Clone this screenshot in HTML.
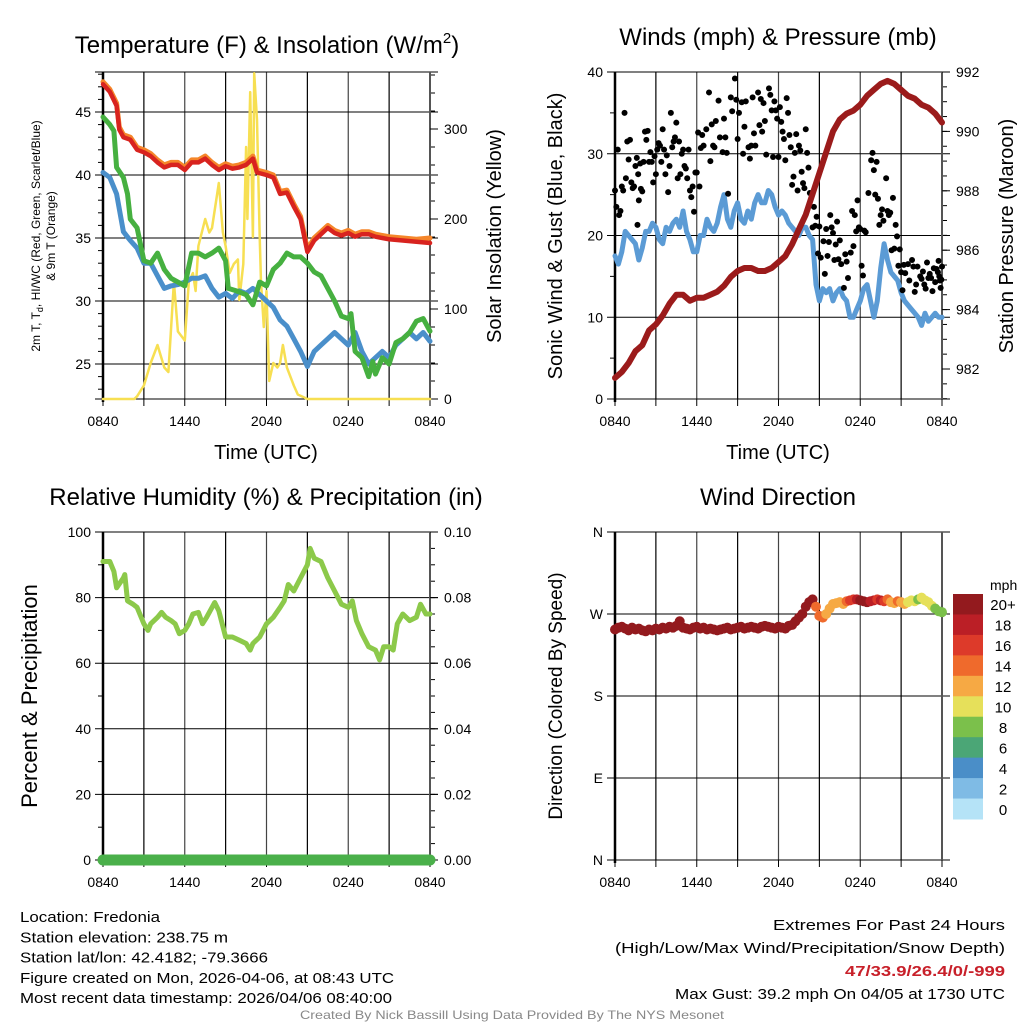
<!DOCTYPE html>
<html><head><meta charset="utf-8"><style>
body{margin:0;background:#fff}
svg{display:block;font-family:"Liberation Sans",sans-serif}
</style></head><body>
<svg id="fig" width="1024" height="1024" viewBox="0 0 1024 1024"></svg>
<script>
// ---------- DATA ----------
const hourTicks=[0,3,6,9,12,15,18,21,24];
const hourTickLabels=["0840","","1440","","2040","","0240","","0840"];
const tempTicks=[25,30,35,40,45];
const solarTicks=[0,100,200,300];
const windTicks=[0,10,20,30,40];
const presTicks=[982,984,986,988,990,992];
const rhTicks=[0,20,40,60,80,100];
const precipTickLabels=["0.00","0.02","0.04","0.06","0.08","0.10"];
const dirTicks=[0,90,180,270,360];
const dirTickLabels=["N","E","S","W","N"];
const speedBins=["0","2","4","6","8","10","12","14","16","18","20+"];
const speedColors=["#b5e3f7","#7fbbe5","#4a8ec8","#4ba676","#7bc04b","#e6e05a","#f6a944","#ef6a2c","#dd3a2a","#bb1f26","#931a1e"];

const tHours=[0,0.5,1,1.2,1.5,2,2.5,3,3.5,4,4.5,5,5.5,6,6.5,7,7.5,8,8.5,9,9.5,10,10.5,11,11.3,12,12.5,13,13.5,14,14.5,15,15.5,16,16.5,17,17.5,18,18.5,19,19.5,20,20.5,21,22,23,24];
const tempRed=[47.2,46.6,45.5,43.6,43,42.8,42,41.8,41.5,41.0,40.6,40.8,40.8,40.4,41.0,41.0,41.3,40.8,40.4,40.7,40.5,40.6,40.8,41.3,40.2,40.0,39.8,38.5,38.6,37.5,36.5,33.9,34.8,35.3,35.8,35.4,35.2,35.4,35.1,35.3,35.3,35.1,35.0,34.9,34.8,34.7,34.6];
const tempOrange=[47.4,46.8,45.7,43.8,43.2,43.0,42.2,42.0,41.7,41.2,40.8,41.0,41.0,40.6,41.2,41.2,41.5,41.0,40.6,40.9,40.7,40.8,41.0,41.5,40.4,40.2,40.0,38.7,38.8,37.7,36.7,34.1,35.0,35.5,36.0,35.6,35.4,35.6,35.3,35.5,35.5,35.3,35.2,35.1,35.0,34.9,35.0];
const dHours=[0,0.5,0.8,1,1.5,1.8,2,2.5,3,3.5,4,4.5,5,5.5,6,6.5,7,7.5,8,8.5,9,9.2,9.8,10.5,11,11.5,12,12.5,13,13.5,14,14.5,15,15.5,16,17,17.5,18,18.2,18.5,19,19.5,19.8,20,20.5,21,21.5,22,22.5,23,23.5,24];
const dewGreen=[44.6,44,43.5,40.6,39.8,38.5,36.5,35.8,33.2,33.0,33.8,32.5,31.8,31.5,31.2,33.8,33.8,33.5,33.8,34.2,33.2,31.0,30.8,30.5,29.7,31.5,31.2,32.5,33.0,33.8,33.5,33.5,33.0,32.3,32.0,30.0,28.8,28.6,29.0,26.0,25.5,24.0,25.2,24.2,25.5,25.0,26.7,27.0,27.5,28.4,28.6,27.6];
const bHours=[0,0.5,1,1.5,2,2.5,3,3.5,4,4.5,5,5.5,6,6.5,7,7.5,8,8.5,9,9.5,10,10.5,11,11.5,12,12.5,13,13.5,14,14.5,15,15.5,16,16.5,17,17.5,18,18.5,19,19.5,20,20.5,21,21.5,22,22.5,23,23.5,24];
const wcBlue=[40.2,39.8,38.5,35.5,34.8,34.2,33.0,33.0,32.0,31.0,31.2,31.3,31.5,31.8,31.8,32.0,31.0,30.3,30.6,30.2,30.8,30.6,31.0,30.5,30.0,29.5,28.5,28.0,27.0,26.0,24.8,26.0,26.5,27.0,27.5,27.0,26.5,27.5,26.0,25.0,25.5,26.0,25.5,26.5,27.0,27.5,27.0,27.5,26.8];
const sHours=[0,2.3,2.5,3,3.5,4,4.5,4.8,5.2,5.5,6,6.3,6.6,6.8,7,7.5,7.8,8,8.3,8.5,8.8,9,9.3,9.6,9.9,10,10.3,10.5,10.6,10.8,11,11.1,11.3,11.5,11.6,11.8,12,12.2,12.5,12.8,13,13.2,13.5,14,14.3,15,24];
const solar=[0,0,3,15,40,60,35,30,130,75,65,130,140,120,170,200,185,190,220,240,185,170,140,150,155,110,150,280,200,341,180,362,310,180,130,80,120,20,40,35,40,60,35,15,5,0,0];

const pHours=[0,0.5,1,1.5,2,2.5,3,3.5,4,4.5,5,5.5,6,6.5,7,7.5,8,8.5,9,9.5,10,10.5,11,11.5,12,12.5,13,13.5,14,14.5,15,15.5,16,16.5,17,17.5,18,18.5,19,19.5,20,20.5,21,21.5,22,22.5,23,23.5,24];
const pressure=[981.7,981.9,982.2,982.6,982.8,983.3,983.5,983.8,984.2,984.5,984.5,984.3,984.4,984.4,984.5,984.6,984.8,985.1,985.3,985.4,985.4,985.3,985.3,985.4,985.6,985.8,986.2,986.7,987.2,987.9,988.6,989.3,990.0,990.4,990.6,990.7,990.9,991.2,991.4,991.6,991.7,991.6,991.4,991.2,991.1,990.9,990.8,990.6,990.3];
const wHours=[0,0.25,0.5,0.75,1,1.25,1.5,1.75,2,2.25,2.5,2.75,3,3.25,3.5,3.75,4,4.25,4.5,4.75,5,5.25,5.5,5.75,6,6.25,6.5,6.75,7,7.25,7.5,7.75,8,8.25,8.5,8.75,9,9.25,9.5,9.75,10,10.25,10.5,10.75,11,11.25,11.5,11.75,12,12.25,12.5,12.75,13,13.25,13.5,13.75,14,14.25,14.5,14.75,15,15.25,15.5,15.75,16,16.25,16.5,16.75,17,17.25,17.5,17.75,18,18.25,18.5,18.75,19,19.25,19.5,19.75,20,20.25,20.5,20.75,21,21.25,21.5,21.75,22,22.25,22.5,22.75,23,23.25,23.5,23.75,24];
const windSpeed=[17.5,16.5,18,20.5,20,19.5,19,17,18.5,20.5,20.5,21.5,21,19.5,19,21,20.5,21.5,22,21,23,20.5,19.5,18,18,20,20,22,21,20.5,21.5,23.5,25,22,21,23,24,22,21.5,23,22,24,25,24,24,25.5,25,23.5,22.5,23,22.5,21.5,21,20.5,20,21,21,20,19.5,14,12,13.5,13,13.5,12,13,13.5,12.5,12,10,10,11,12,13.5,14,12,10,12,16,19,17,15.5,15,14.5,13,12,11.5,11,10.5,10,9,10.5,9.5,10,10.5,10,10];
const gustPts=[[0,25.5],[0.1,23.5],[0.2,30.5],[0.3,22.5],[0.4,23],[0.5,26],[0.6,25.5],[0.7,35],[0.8,27],[0.9,31.5],[1,29.3],[1.1,31.7],[1.2,26.5],[1.3,25.8],[1.4,26],[1.5,28.5],[1.6,29.5],[1.65,21.3],[1.7,27.5],[1.75,24.3],[1.85,28.8],[1.9,25.7],[2,25.4],[2.1,29],[2.2,32.7],[2.3,31.7],[2.4,32.8],[2.5,29],[2.6,30.2],[2.7,29],[2.8,26.5],[2.9,29.7],[3.0,27.5],[3.1,30.5],[3.2,31.3],[3.3,31],[3.4,29],[3.5,33],[3.6,30.5],[3.7,27.5],[3.8,29.8],[3.9,25.3],[4.0,28.5],[4.1,35],[4.2,30.8],[4.3,31.5],[4.4,32],[4.5,33.8],[4.6,27],[4.7,31.5],[4.8,27.5],[4.9,30],[5.0,30.5],[5.1,28.5],[5.2,28.2],[5.3,27],[5.4,30.5],[5.5,25.5],[5.6,24.7],[5.7,26],[5.8,22.9],[5.9,27.7],[6.0,27.7],[6.1,32.6],[6.2,26],[6.3,30.7],[6.4,32.3],[6.5,31],[6.7,33],[6.9,37.5],[7.0,29.1],[7.1,33.6],[7.2,31],[7.3,30.8],[7.4,34],[7.6,36.5],[7.7,32],[7.9,30.2],[8.0,34.3],[8.1,32],[8.2,30.1],[8.3,25.1],[8.5,36.9],[8.6,35.2],[8.8,39.2],[8.9,36.6],[9.0,31.8],[9.1,35],[9.3,36.3],[9.4,30],[9.5,33.3],[9.6,36.4],[9.8,30.8],[9.9,29.4],[10.0,31],[10.1,36.9],[10.2,32.5],[10.3,31],[10.5,37.5],[10.6,33.5],[10.7,36.7],[10.8,32.7],[10.9,36.2],[11.0,34],[11.1,29.9],[11.3,38],[11.4,37.2],[11.5,35.3],[11.6,29.6],[11.7,36.4],[11.8,35.3],[11.9,34.3],[12.0,29.6],[12.1,35.7],[12.2,33.9],[12.3,32.7],[12.4,31.8],[12.5,29.2],[12.6,36.8],[12.7,35],[12.8,32.3],[12.9,30.8],[13.0,26.2],[13.1,27.2],[13.2,30.1],[13.3,32.4],[13.4,25.5],[13.5,31],[13.6,30.4],[13.7,27.8],[13.8,26.4],[13.9,25.8],[14.0,33],[14.1,30.1],[14.2,28.3],[14.3,25.2],[14.5,21],[14.6,23.5],[14.7,21.2],[14.8,22.3],[14.9,17.8],[15.0,21.1],[15.1,17.3],[15.3,19.3],[15.4,15.3],[15.5,20.8],[15.6,17.5],[15.7,19.2],[15.8,22.5],[15.9,21],[16.0,20.3],[16.1,17],[16.2,18.9],[16.3,21.7],[16.4,17.1],[16.5,19.4],[16.6,16.5],[16.8,13.6],[16.9,17.7],[17.0,16.8],[17.1,14.8],[17.3,17.9],[17.4,23],[17.5,18.7],[17.6,22.5],[17.7,20.5],[17.8,24.3],[17.9,21],[18.0,20.8],[18.1,16.3],[18.2,15.1],[18.3,20.6],[18.4,20.4],[18.6,25.2],[18.8,29.2],[18.9,30.1],[19.0,28],[19.1,25],[19.2,29],[19.3,24.5],[19.4,21.3],[19.5,22.5],[19.6,23.2],[19.7,21.8],[19.9,27],[20.0,23],[20.1,22.5],[20.2,22.8],[20.3,18.2],[20.4,24.6],[20.5,18.4],[20.6,21.3],[20.7,19.9],[20.8,16.3],[20.9,18.3],[21.0,15.5],[21.1,13.3],[21.2,16.4],[21.3,15.4],[21.5,16.5],[21.6,14.5],[21.8,17],[21.9,16.2],[22.0,13.1],[22.1,14],[22.2,16.2],[22.4,15],[22.5,14.7],[22.6,15.6],[22.7,14],[22.8,13.5],[22.9,16.7],[23.0,14.8],[23.1,15.3],[23.2,14.8],[23.3,13.2],[23.4,16],[23.5,14.3],[23.6,15.9],[23.7,15.5],[23.75,16.9],[23.8,15],[23.85,14.5],[23.9,13.6],[23.95,14.6],[24,16.2]];

const rhHours=[0,0.5,0.8,1,1.5,1.6,1.8,2.2,2.5,3,3.3,3.5,4,4.3,4.6,5,5.3,5.6,6,6.3,6.6,7,7.3,7.6,8,8.2,8.5,9,9.5,10,10.5,10.8,11,11.5,12,12.5,13,13.3,13.6,14,14.5,15,15.2,15.5,16,16.5,17,17.5,18,18.3,18.6,19,19.5,20,20.3,20.6,21,21.3,21.6,22,22.5,23,23.3,23.7,24];
const rh=[91,91,88,83,86,87,79,78,77,72,70,72,74,75.5,74,73,72,69,70,72,75,75.5,72,74,77,78.5,76,68,68,67,66,64,66,68,72,74,77,79,84,82,86,90,95,92,91,86,82,78,77,79,73,69,65,64,61,65,65,64,72,75,73,74,78,75,75];
const precipHours=[0,24];
const precip=[0,0];

const wdDir=[253,255,256,254,252,255,253,254,252,251,253,252,254,253,255,254,256,255,257,262,255,254,253,255,256,254,255,253,254,253,252,253,254,255,253,254,255,256,254,255,256,255,254,256,257,256,255,254,256,255,254,257,258,262,266,270,278,283,286,278,268,266,270,276,281,282,283,281,284,285,286,286,285,284,283,284,285,286,285,284,286,283,282,284,283,281,283,285,284,286,288,285,283,279,276,273,272];
const wdSpeed=[21,21,21,21,21,21,21,21,21,21,21,21,21,21,21,21,21,21,21,21,21,21,21,21,21,21,21,21,21,21,21,21,21,21,21,21,21,21,21,21,21,21,21,21,21,21,21,21,21,21,21,21,20,20,21,21,22,22,21,15,14,14,13,12,12,12,13,13,15,17,16,19,20,21,20,19,18,17,18,16,14,13,12,14,12,12,11,10,10,9,10,11,10,10,9,9,8];

// ---------- DRAW ----------
const NS="http://www.w3.org/2000/svg";
const svg=document.getElementById('fig');
function el(tag,attrs,parent){const e=document.createElementNS(NS,tag);for(const k in attrs)e.setAttribute(k,attrs[k]);(parent||svg).appendChild(e);return e;}
function txt(s,x,y,attrs,parent){const t=el('text',Object.assign({x:x,y:y},attrs),parent);t.textContent=s;return t;}
function lin(d0,d1,r0,r1){return v=>r0+(v-d0)*(r1-r0)/(d1-d0);}

const X0L=103,X1L=430,X0R=615,X1R=942;
const xL=lin(0,24,X0L,X1L), xR=lin(0,24,X0R,X1R);

function frame(g,x,x0,x1,y0,y1,yGridPix,leftTicks,rightTicks,leftMinor,rightMinor){
  hourTicks.forEach((h,i)=>{
    const l=el('line',{x1:x(h),x2:x(h),y1:y0,y2:y1,stroke:(i%2?'#000':'#444'),'stroke-width':1.2},g);
    
    el('line',{x1:x(h),x2:x(h),y1:y1,y2:y1+7,stroke:'#000','stroke-width':1},g);
    if(hourTickLabels[i]){const t=txt(hourTickLabels[i],x(h),y1+27,{'font-size':14,'text-anchor':'middle'},g);}
  });
  yGridPix.forEach(py=>{const l=el('line',{x1:x0-8,x2:x1+8,y1:py,y2:py,stroke:'#000','stroke-width':1},g);});
  leftMinor.forEach(py=>el('line',{x1:x0-5,x2:x0,y1:py,y2:py,stroke:'#000','stroke-width':1},g));
  rightMinor.forEach(py=>el('line',{x1:x1,x2:x1+5,y1:py,y2:py,stroke:'#000','stroke-width':1},g));
  el('line',{x1:x0,x2:x0,y1:y0,y2:y1+3,stroke:'#000','stroke-width':2.5},g);
  el('line',{x1:x1,x2:x1,y1:y0,y2:y1,stroke:'#555','stroke-width':2},g);
  leftTicks.forEach(([py,s])=>{const t=txt(s,x0-12,py+5,{'font-size':14,'text-anchor':'end'},g);});
  rightTicks.forEach(([py,s])=>{el('line',{x1:x1,x2:x1+8,y1:py,y2:py,stroke:'#000'},g);const t=txt(s,x1+14,py+5,{'font-size':14},g);});
}
function path(xs,ys,xf,yf,attrs,g){let d='';xs.forEach((h,i)=>{d+=(i?'L':'M')+xf(h).toFixed(1)+','+yf(ys[i]).toFixed(1);});return el('path',Object.assign({d:d,fill:'none','stroke-linejoin':'round','stroke-linecap':'round'},attrs),g);}
function title(s,x,y,name,fs){const t=txt(s,x,y,{'font-size':fs||24,'text-anchor':'middle'});return t;}
function vtitle(s,x,y,fs,name){const t=txt(s,0,0,{'font-size':fs,'text-anchor':'middle',transform:`translate(${x},${y}) rotate(-90)`});return t;}
function range(a,b,s){const r=[];for(let v=a;v<=b+1e-9;v+=s)r.push(v);return r;}

// ---- Panel 1: temperature ----
{
 const g=el('g',{});
 const yT=lin(25,45,364,112), yS=lin(0,300,399,129);
 frame(g,xL,X0L,X1L,72,399,tempTicks.map(yT).concat([399,72]),tempTicks.map(v=>[yT(v),String(v)]),solarTicks.map(v=>[yS(v),String(v)]),range(23,48,1).map(yT).filter(p=>p>=72&&p<=399),range(20,360,20).map(yS).filter(p=>p>=72));
 const s1=path(sHours,solar,xL,yS,{stroke:'#f7df52','stroke-width':2.5},g);
 const s2=path(bHours,wcBlue,xL,yT,{stroke:'#4a8fca','stroke-width':5},g);
 const s3=path(dHours,dewGreen,xL,yT,{stroke:'#46b040','stroke-width':5},g);
 const s4=path(tHours,tempOrange,xL,yT,{stroke:'#f5862a','stroke-width':5},g);
 const s5=path(tHours,tempRed,xL,yT,{stroke:'#d8231f','stroke-width':4.5},g);
 const tt=title('Temperature (F) & Insolation (W/m',267,53,'temperature-title');
 const sp=el('tspan',{'font-size':15,dy:-10},tt);sp.textContent='2';
 const cp=el('tspan',{dy:10},tt);cp.textContent=')';
 const t1=txt('2m T, T',0,0,{'font-size':12,'text-anchor':'middle',transform:'translate(40,236) rotate(-90)'});
 
 const sub=el('tspan',{'font-size':9,dy:3},t1);sub.textContent='d';
 const rest=el('tspan',{dy:-3},t1);rest.textContent=', HI/WC (Red, Green, Scarlet/Blue)';
 vtitle('& 9m T (Orange)',55,236,12,'temp-y-axis-title-line2');
 vtitle('Solar Insolation (Yellow)',501,236,20,'solar-y-axis-title');
 title('Time (UTC)',266,459,'x-axis-title',20);
}
// ---- Panel 2: winds ----
{
 const g=el('g',{});
 const yW=lin(0,40,399,72), yP=lin(982,992,369,72);
 frame(g,xR,X0R,X1R,72,399,windTicks.map(yW),windTicks.map(v=>[yW(v),String(v)]),presTicks.map(v=>[yP(v),String(v)]),range(5,35,10).map(yW),range(981,992,0.5).map(yP).filter(p=>p>=72&&p<=399));
 const s1=path(wHours,windSpeed,xR,yW,{stroke:'#5b9bd5','stroke-width':5},g);
 gustPts.forEach(([h,v])=>{const c=el('circle',{cx:xR(h),cy:yW(v),r:3,fill:'#000'},g);});
 const s2=path(pHours,pressure,xR,yP,{stroke:'#9b1b1b','stroke-width':6},g);
 title('Winds (mph) & Pressure (mb)',778,45,'winds-title');
 vtitle('Sonic Wind & Gust (Blue, Black)',562,236,20,'wind-y-axis-title');
 vtitle('Station Pressure (Maroon)',1013,236,20,'pressure-y-axis-title');
 title('Time (UTC)',778,459,'x-axis-title-2',20);
}
// ---- Panel 3: RH ----
{
 const g=el('g',{});
 const yR=lin(0,100,860,532);
 frame(g,xL,X0L,X1L,532,860,rhTicks.map(yR),rhTicks.map(v=>[yR(v),String(v)]),rhTicks.map((v,i)=>[yR(v),precipTickLabels[i]]),range(10,90,20).map(yR),range(5,95,5).map(yR));
 const s1=path(rhHours,rh,xL,yR,{stroke:'#8cc94a','stroke-width':5},g);
 const s2=path(precipHours,precip,xL,v=>yR(v*1000),{stroke:'#4ab04a','stroke-width':11},g);
 title('Relative Humidity (%) & Precipitation (in)',266,505,'humidity-title');
 vtitle('Percent & Precipitation',37,696,22,'rh-y-axis-title');
}
// ---- Panel 4: wind direction ----
{
 const g=el('g',{});
 const yD=lin(0,360,860,532);
 frame(g,xR,X0R,X1R,532,860,dirTicks.map(yD),dirTicks.map((v,i)=>[yD(v),dirTickLabels[i]]),[],[],[]);
 wdDir.forEach((d,i)=>{const bin=Math.min(10,Math.floor(wdSpeed[i]/2));const c=el('circle',{cx:xR(wHours[i]),cy:yD(d),r:5,fill:speedColors[bin]},g);});
 title('Wind Direction',778,505,'wind-direction-title');
 vtitle('Direction (Colored By Speed)',562,696,19,'direction-y-axis-title');
 const lg=el('g',{},g);
 const m=txt('mph',990,590,{'font-size':14},lg);
 const bh=(819-594)/11;
 speedBins.forEach((s,i)=>{const k=10-i;const y=594+i*bh;
  const r=el('rect',{x:953,y:y,width:30,height:bh+0.5,fill:speedColors[k]},lg);
  const t=txt(speedBins[k],1003,y+bh/2+6,{'font-size':15,'text-anchor':'middle'},lg);});
}
// ---- Footer ----
const left=["Location: Fredonia","Station elevation: 238.75 m","Station lat/lon: 42.4182; -79.3666","Figure created on Mon, 2026-04-06, at 08:43 UTC","Most recent data timestamp: 2026/04/06 08:40:00"];
const leftW=[140,208,248,374,372];
left.forEach((s,i)=>{const t=txt(s,20,922+i*20.3,{'font-size':15,textLength:leftW[i],lengthAdjust:'spacingAndGlyphs'});});
const right=[["Extremes For Past 24 Hours",930,232,'#000','normal'],["(High/Low/Max Wind/Precipitation/Snow Depth)",953,390,'#000','normal'],["47/33.9/26.4/0/-999",976,160,'#c8202a','bold'],["Max Gust: 39.2 mph On 04/05 at 1730 UTC",999,330,'#000','normal']];
right.forEach(([s,y,w,c,fw])=>{const t=txt(s,1005-w,y,{'font-size':15,fill:c,'font-weight':fw,textLength:w,lengthAdjust:'spacingAndGlyphs'});});
const cr=txt('Created By Nick Bassill Using Data Provided By The NYS Mesonet',512,1019,{'font-size':12,fill:'#888','text-anchor':'middle',textLength:424,lengthAdjust:'spacingAndGlyphs'});

</script>
</body></html>
